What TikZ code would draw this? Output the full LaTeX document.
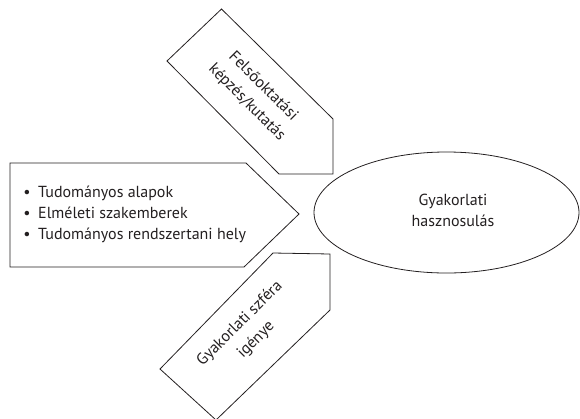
\documentclass[tikz,border=0pt]{standalone}
\usepackage{fontspec}
\setmainfont{PT Sans}
\usetikzlibrary{shapes.geometric}
\definecolor{ink}{HTML}{231F20}
\begin{document}
\begin{tikzpicture}[x=1pt,y=-1pt,
  shapeline/.style={draw=ink, line width=0.8pt, line join=miter},
  txt/.style={text=ink, font=\fontsize{16}{21}\selectfont, inner sep=0pt, align=center},
  item/.style={txt, anchor=base west},
  dot/.style={txt, anchor=base},
]
\useasboundingbox (0,0) rectangle (580,418);

% top pentagon (points to lower right)
\draw[shapeline] (221.5,9) -- (333,119) -- (333,174) -- (279,174) -- (167,61) -- cycle;
\node[txt, rotate=-45] (toptext) at (255,94.5) {Felsőoktatási\\[2pt]képzés/kutatás};

% left pentagon (points right)
\draw[shapeline] (10,163) -- (246,163) -- (299,214) -- (244,267) -- (10,267) -- cycle;
\node[dot] (b1) at (27,197) {\textbullet};
\node[dot] (b2) at (27,218) {\textbullet};
\node[dot] (b3) at (27,239) {\textbullet};
\node[item] (i1) at (38,197) {Tudományos alapok};
\node[item] (i2) at (38,218) {Elméleti szakemberek};
\node[item] (i3) at (38,239) {Tudományos rendszertani hely};

% bottom pentagon (points to upper right)
\draw[shapeline] (273,253) -- (330,254) -- (330,310) -- (216,420) -- (160,369) -- cycle;
\node[txt, rotate=45] (bottext) at (248,332) {Gyakorlati szféra\\[2pt]igénye};

% ellipse
\node[ellipse, shapeline, minimum width=265pt, minimum height=121pt, inner sep=0pt] (goal) at (446.5,212.5) {};
\node[txt] (goaltext) at (453,210) {Gyakorlati\\hasznosulás};
\end{tikzpicture}
\end{document}
